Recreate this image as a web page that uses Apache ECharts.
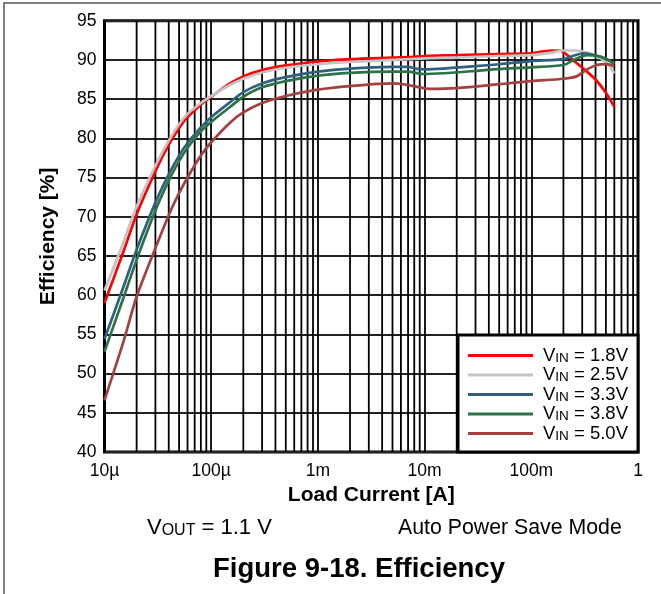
<!DOCTYPE html>
<html>
<head>
<meta charset="utf-8">
<script src="https://cdn.jsdelivr.net/npm/echarts@6/dist/echarts.min.js"></script>
<style>
  html, body { margin: 0; padding: 0; background: #fff; }
  #chart { width: 661px; height: 594px; }
</style>
</head>
<body>
<div id="chart"></div>
<script>
// x tick labels (log decades 10u .. 1A)
const xTickLabels = ['10\u00b5', '100\u00b5', '1m', '10m', '100m', '1'];
const vinNames = ['1.8V', '2.5V', '3.3V', '3.8V', '5.0V'];
const vinColors = ['#ff0000', '#c4c4c4', '#31607f', '#2b7246', '#a34040'];

// [load current A, efficiency %]
const vin18 = [[1e-5,59.0],[1.5e-5,65.5],[2e-5,70.3],[3e-5,75.8],[4e-5,79.2],[5e-5,81.3],[6e-5,82.7],[8e-5,84.3],[1e-4,85.3],[1.5e-4,87.0],[2e-4,87.9],[3e-4,88.7],[5e-4,89.3],[1e-3,89.8],[2e-3,90.1],[5e-3,90.3],[8e-3,90.4],[1e-2,90.5],[2e-2,90.6],[5e-2,90.75],[1e-1,90.85],[1.25e-1,91.05],[1.55e-1,91.2],[1.8e-1,91.2],[2e-1,91.0],[2.5e-1,89.9],[3.2e-1,88.7],[4e-1,87.5],[5e-1,85.8],[6e-1,84.0]];
const vin25 = [[1e-5,60.6],[1.5e-5,66.7],[2e-5,71.3],[3e-5,76.5],[4e-5,79.7],[5e-5,81.8],[6e-5,83.1],[8e-5,84.5],[1e-4,85.4],[1.5e-4,86.8],[2e-4,87.6],[3e-4,88.4],[5e-4,89.0],[1e-3,89.45],[2e-3,89.75],[5e-3,90.0],[1e-2,90.2],[2e-2,90.3],[5e-2,90.5],[1e-1,90.6],[1.5e-1,90.9],[2e-1,91.2],[2.6e-1,91.2],[3.5e-1,90.85],[4.9e-1,89.8],[6e-1,88.3]];
const vin33 = [[1e-5,54.4],[1.5e-5,61.0],[2e-5,65.8],[3e-5,71.8],[4e-5,75.4],[5e-5,77.8],[6e-5,79.4],[8e-5,81.4],[1e-4,82.7],[1.5e-4,84.6],[2e-4,85.9],[3e-4,87.0],[5e-4,87.8],[1e-3,88.5],[2e-3,88.9],[5e-3,89.1],[7e-3,89.1],[8.5e-3,88.85],[1e-2,88.8],[1.5e-2,88.9],[3e-2,89.2],[5e-2,89.45],[1e-1,89.85],[2e-1,90.1],[2.57e-1,90.6],[3.05e-1,90.85],[4e-1,90.6],[5e-1,90.15],[6e-1,89.5]];
const vin38 = [[1e-5,52.8],[1.5e-5,59.6],[2e-5,64.5],[3e-5,70.8],[4e-5,74.6],[5e-5,77.1],[6e-5,78.8],[8e-5,80.9],[1e-4,82.1],[1.5e-4,84.0],[2e-4,85.3],[3e-4,86.5],[5e-4,87.3],[1e-3,88.0],[2e-3,88.35],[5e-3,88.5],[7e-3,88.5],[9.7e-3,88.2],[1.5e-2,88.3],[3e-2,88.6],[5e-2,88.85],[1e-1,89.05],[2e-1,89.35],[2.5e-1,90.0],[3.33e-1,90.6],[4.13e-1,90.5],[5.12e-1,90.05],[6e-1,89.5]];
const vin50 = [[1e-5,46.6],[1.5e-5,54.0],[2e-5,59.8],[3e-5,66.0],[4e-5,70.2],[5e-5,73.0],[6e-5,75.0],[8e-5,77.8],[1e-4,79.5],[1.5e-4,82.0],[2e-4,83.3],[3e-4,84.5],[5e-4,85.4],[1e-3,86.2],[2e-3,86.65],[5e-3,87.0],[6.3e-3,86.9],[9e-3,86.5],[1.1e-2,86.3],[2e-2,86.4],[5e-2,86.9],[1e-1,87.3],[2e-1,87.6],[2.66e-1,87.9],[3.33e-1,88.8],[4.13e-1,89.35],[5.12e-1,89.45],[6e-1,89.15]];

const FONT = '"Liberation Sans", Arial, sans-serif';
const Y_MIN = 40, Y_MAX = 95;

// minor log grid: 2..9 x each decade, drawn as vertical segments broken by '-'
const minorGrid = [];
for (let d = -5; d < 0; d++) {
    for (let k = 2; k <= 9; k++) {
        const v = k * Math.pow(10, d);
        minorGrid.push([v, Y_MIN], [v, Y_MAX], [v, '-']);
    }
}

const chart = echarts.init(document.getElementById('chart'));

const curves = [vin18, vin25, vin33, vin38, vin50].map((d, i) => ({
    name: vinNames[i],
    type: 'line',
    data: d,
    smooth: 0.3,
    symbol: 'none',
    z: 3,
    lineStyle: { color: vinColors[i], width: 2.7 },
    itemStyle: { color: vinColors[i] },
}));

const option = {
    animation: false,
    backgroundColor: '#fff',
    grid: {
        left: 104.5, top: 20.7, right: 23, bottom: 142,
        show: true, borderColor: '#000', borderWidth: 3,
        backgroundColor: 'transparent',
    },
    xAxis: {
        type: 'log', logBase: 10, min: 1e-5, max: 1,
        name: 'Load Current [A]', nameLocation: 'middle', nameGap: 30,
        nameTextStyle: { fontFamily: FONT, fontSize: 21, fontWeight: 'bold', color: '#000' },
        axisLine: { show: false },
        axisTick: { show: false },
        axisLabel: {
            margin: 10, fontFamily: FONT, fontSize: 17.5, color: '#000',
            formatter: v => xTickLabels[Math.round(Math.log10(v)) + 5],
        },
        splitLine: { show: true, lineStyle: { color: '#000', width: 1.8 } },
    },
    yAxis: {
        type: 'value', min: Y_MIN, max: Y_MAX, interval: 5,
        name: 'Efficiency [%]', nameLocation: 'middle', nameGap: 46,
        nameTextStyle: { fontFamily: FONT, fontSize: 21, fontWeight: 'bold', color: '#000' },
        axisLine: { show: false },
        axisTick: { show: false },
        axisLabel: { margin: 8, fontFamily: FONT, fontSize: 17.5, color: '#000' },
        splitLine: { show: true, lineStyle: { color: '#222', width: 1.8 } },
    },
    legend: {
        data: vinNames,
        orient: 'vertical',
        left: 468, top: 346,
        padding: 0, itemGap: 0.5,
        itemWidth: 65, itemHeight: 3,
        icon: 'rect',
        z: 20,
        formatter: n => '{v|V}{s|IN}{v| = ' + n + '}',
        textStyle: {
            padding: [0, 0, 0, 5],
            rich: {
                v: { fontFamily: FONT, fontSize: 18.5, color: '#000', lineHeight: 19 },
                s: { fontFamily: FONT, fontSize: 13.5, color: '#000', lineHeight: 8, verticalAlign: 'bottom' },
            },
        },
    },
    graphic: [
        { type: 'rect', z: 0, silent: true,
          shape: { x: 4, y: 3, width: 700, height: 700 },
          style: { fill: 'none', stroke: '#555', lineWidth: 1.5 } },
        { type: 'rect', z: 10, silent: true,
          shape: { x: 458, y: 335, width: 180, height: 117 },
          style: { fill: '#fff', stroke: '#000', lineWidth: 3 } },
        { type: 'text', x: 147, y: 528, silent: true,
          style: {
              text: '{v|V}{s|OUT}{v| = 1.1 V}', align: 'left', verticalAlign: 'middle',
              rich: {
                  v: { fontFamily: FONT, fontSize: 22, fill: '#000', lineHeight: 22 },
                  s: { fontFamily: FONT, fontSize: 16, fill: '#000', lineHeight: 10, verticalAlign: 'bottom' },
              },
          } },
        { type: 'text', x: 398, y: 528, silent: true,
          style: { text: 'Auto Power Save Mode', fontFamily: FONT, fontSize: 21.3, fill: '#000',
                   align: 'left', verticalAlign: 'middle' } },
        { type: 'text', x: 359, y: 569, silent: true,
          style: { text: 'Figure 9-18. Efficiency', fontFamily: FONT, fontSize: 27.5, fontWeight: 'bold',
                   fill: '#000', align: 'center', verticalAlign: 'middle' } },
    ],
    series: [
        {
            name: 'grid-minor', type: 'line', data: minorGrid, z: 1, silent: true,
            symbol: 'none', connectNulls: false,
            lineStyle: { color: '#000', width: 1.8 },
        },
        ...curves,
    ],
};

chart.setOption(option);
</script>
</body>
</html>
